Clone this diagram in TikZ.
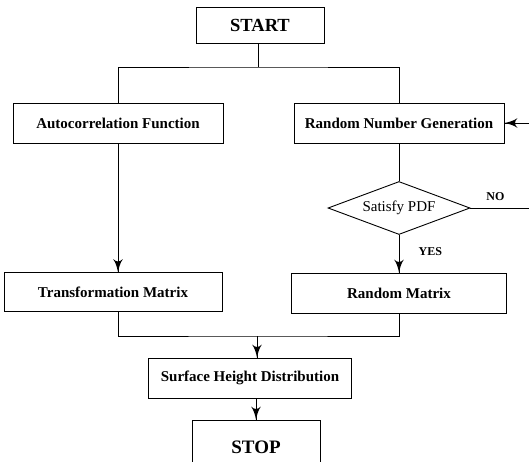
\documentclass[tikz,border=0pt]{standalone}
\usepackage{fontspec}
\setmainfont{Liberation Serif}
\usetikzlibrary{arrows}
\usetikzlibrary{decorations.markings}
\usetikzlibrary{positioning}
\usetikzlibrary{shapes.geometric}
\tikzset{->/.style = {decoration={markings,
                                  mark=at position 1 with {\arrow[scale=2.5]{latex'}}},
                      postaction={decorate}}}
\tikzset{box/.style = {draw, rectangle, inner sep = 0, line width = 0.9pt,
                       font = \fontsize{15}{18}\selectfont\bfseries}}
\tikzset{decision/.style = {draw, diamond, aspect = 2.7, inner sep = 0, line width = 0.9pt,
                            font = \fontsize{15}{18}\selectfont}}
\tikzset{tag/.style = {font = \fontsize{12}{14}\selectfont\bfseries}}
\begin{document}
\begin{tikzpicture}[x=1pt, y=-1pt, line width=0.8pt]
      \useasboundingbox (0, 0) rectangle (529, 461);
      \node [box, minimum width=128, minimum height=36, font=\fontsize{18.5}{22}\selectfont\bfseries] (start) at (260, 25) {START};
      \node [box, minimum width=210, minimum height=40] (acf) at (118, 123) {Autocorrelation Function};
      \node [box, minimum width=210, minimum height=40] (rng) at (399, 123) {Random Number Generation};
      \node [decision, minimum width=142, minimum height=53] (satisfy) at (399, 208) {Satisfy PDF};
      \node [box, minimum width=218, minimum height=39] (tm) at (113, 292) {Transformation Matrix};
      \node [box, minimum width=215, minimum height=40] (rm) at (399, 293) {Random Matrix};
      \node [box, minimum width=203, minimum height=40] (shd) at (250, 378) {Surface Height Distribution};
      \node [box, minimum width=128, minimum height=54, font=\fontsize{19}{22}\selectfont\bfseries] (stop) at (256, 447) {STOP};
      \coordinate (fork) at (258, 67);
      \coordinate (join) at (257, 336);
      \coordinate (loop) at (540, 208);
      \draw (start.south -| fork) -- (fork);
      \draw (acf.north) |- (fork) -| (rng.north);
      \draw [->] (acf.south) -- (acf.south |- tm.north);
      \draw (rng.south) -- (satisfy.north);
      \draw [->] (satisfy.south) -- (rm.north) node [pos=0.45, right=16pt, tag] {YES};
      \draw [->] (satisfy.east) -- node [pos=0.36, above=4pt, tag] {NO} (loop) |- (rng.east);
      \draw (acf.south |- tm.south) |- (join) -| (rm.south);
      \draw [->] (join) -- (join |- shd.north);
      \draw [->] (shd.south -| stop) -- (stop.north);
    \end{tikzpicture}
\end{document}
